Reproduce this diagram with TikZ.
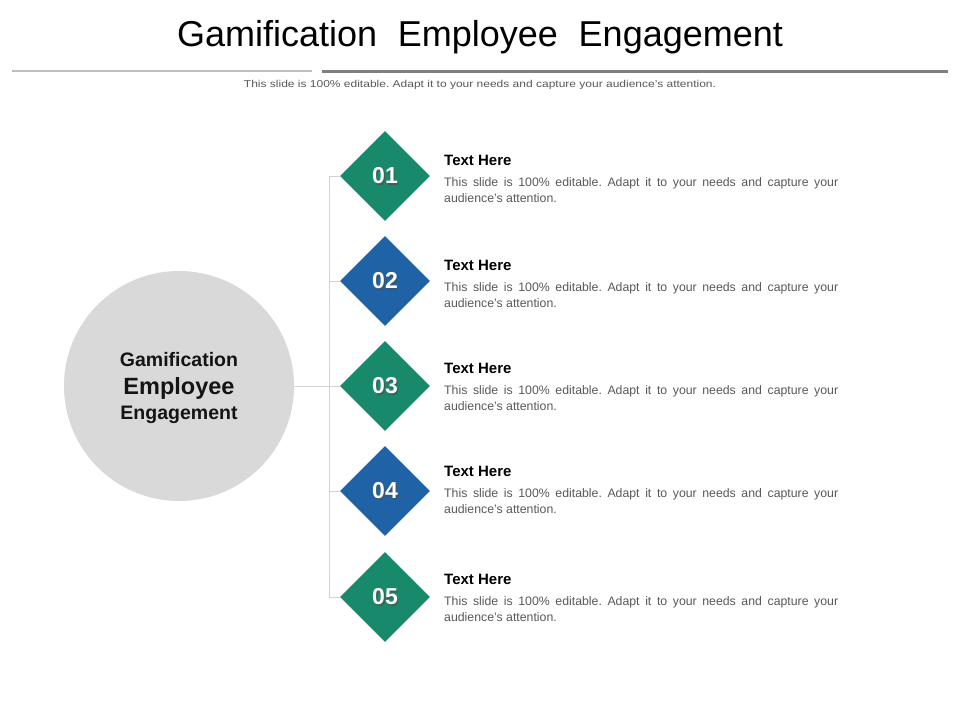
\documentclass[tikz,border=0pt]{standalone}
\usepackage{fontspec}
\setmainfont{Liberation Sans}
\usetikzlibrary{shapes.geometric}
\definecolor{dgreen}{HTML}{19896B}
\definecolor{dblue}{HTML}{1F63A6}
\definecolor{circgray}{HTML}{D9D9D9}
\definecolor{linegray}{HTML}{D3D3D3}
\definecolor{bodygray}{HTML}{595959}
\definecolor{ruleL}{HTML}{BFBFBF}
\definecolor{ruleR}{HTML}{7F7F7F}
\frenchspacing
\begin{document}
\begin{tikzpicture}[x=1pt,y=-1pt,
  diam/.style={diamond,aspect=1,minimum size=90pt,inner sep=0pt},
  num/.style={text=white,inner sep=0pt,font=\fontsize{23}{23}\selectfont\bfseries},
  numshadow/.style={text=black!70,opacity=0.6,inner sep=0pt,font=\fontsize{23}{23}\selectfont\bfseries},
  head/.style={anchor=base west,inner sep=0pt,font=\fontsize{15}{18}\selectfont\bfseries},
  body/.style={anchor=base west,inner sep=0pt,text width=394pt,align=justify,text=bodygray,font=\fontsize{12.3}{16}\selectfont},
  conn/.style={draw=linegray,line width=0.9pt},
  ctext/.style={anchor=base,inner sep=0pt,text=black!92,font=\bfseries}]
\useasboundingbox[fill=white] (0,0) rectangle (960,720);
% title
\node[anchor=base,inner sep=0pt,font=\fontsize{36}{40}\selectfont] (title) at (480,46)
  {Gamification\hspace{0.3em} Employee\hspace{0.3em} Engagement};
\draw[line width=2pt,draw=ruleL] (12,71) -- (312,71);
\draw[line width=3pt,draw=ruleR] (322,71) -- (948,71);
\node[anchor=base,inner sep=0pt,text=bodygray] (sub) at (480,87)
  {\scalebox{1.2}[1]{\fontsize{10}{12}\selectfont This slide is 100\% editable. Adapt it to your needs and capture your audience's attention.}};
% central circle
\node[circle,fill=circgray,minimum size=230pt,inner sep=0pt] (c) at (179,386) {};
\node[ctext,font=\fontsize{19.5}{20}\selectfont\bfseries] (c1) at (179,366) {Gamification};
\node[ctext,font=\fontsize{23.5}{24}\selectfont\bfseries] (c2) at (179,394.5) {Employee};
\node[ctext,font=\fontsize{19.5}{20}\selectfont\bfseries] (c3) at (179,419) {Engagement};
% diamonds and texts
\foreach \i/\y/\col/\t in {1/176/dgreen/160, 2/281/dblue/265, 3/386/dgreen/368, 4/491/dblue/471, 5/597/dgreen/579}{
  \node[diam,fill=\col] (d\i) at (385,\y) {};
  \node[numshadow] (ns\i) at ([xshift=1.3pt,yshift=-1.3pt]d\i.center) {0\i};
  \node[num] (n\i) at (d\i.center) {0\i};
  \node[head] (h\i) at (444,\t+5.5) {Text Here};
  \node[body] (b\i) at (444,\t+26.5) {This slide is 100\% editable. Adapt it to your needs and capture your\linebreak audience's attention.};
}
% connectors
\draw[conn] (c.east) -- (d3.west);
\draw[conn] (d1.west) -- ++(-10,0) |- (d5.west);
\draw[conn] (d2.west) -- ++(-10,0);
\draw[conn] (d4.west) -- ++(-10,0);
\end{tikzpicture}
\end{document}
